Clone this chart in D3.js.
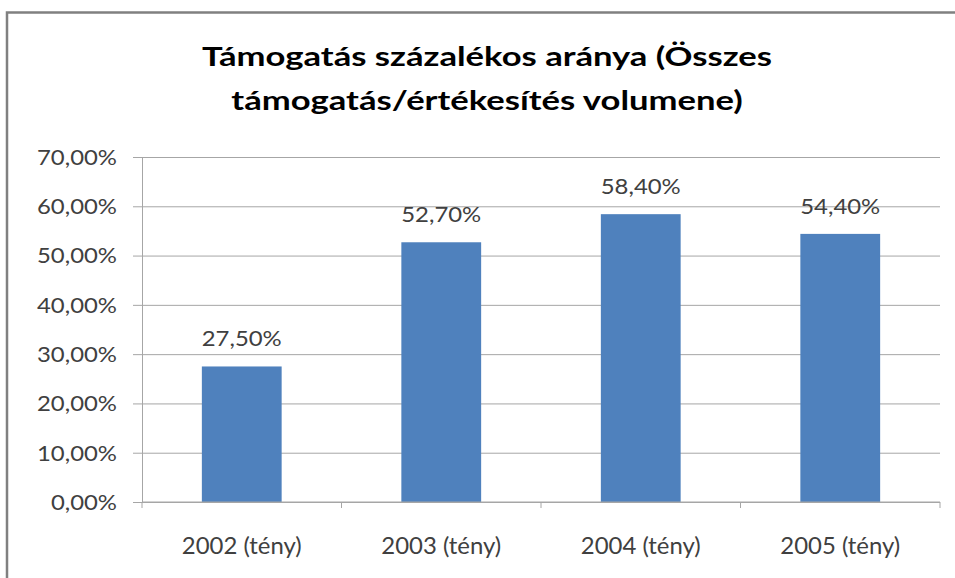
<!DOCTYPE html>
<html>
<head>
<meta charset="utf-8">
<script src="https://cdn.jsdelivr.net/npm/d3@7"></script>
<style>
  body { margin: 0; background: #fff; }
  svg { display: block; font-family: Lato, "Open Sans", sans-serif; }
</style>
</head>
<body>
<svg id="chart" width="955" height="578"></svg>
<script>
const categories = ["2002 (tény)", "2003 (tény)", "2004 (tény)", "2005 (tény)"];
const values = [27.5, 52.7, 58.4, 54.4];
const yTicks = [0, 10, 20, 30, 40, 50, 60, 70];
const titleLines = ["Támogatás százalékos aránya (Összes", "támogatás/értékesítés volumene)"];

const width = 955, height = 578;
const margin = { top: 157, right: 15, bottom: 76, left: 142 };
const fmt = d => d.toFixed(2).replace(".", ",") + "%";

// a referencia betűi szélesebbek, ezért vízszintesen nyújtjuk a szöveget
function stretch(sel, factor) {
    sel.each(function () {
        const w = this.getComputedTextLength();
        d3.select(this).attr("textLength", w * factor).attr("lengthAdjust", "spacingAndGlyphs");
    });
}

const svg = d3.select("#chart");

// keret
svg.append("rect")
    .attr("x", 7).attr("y", 12.5)
    .attr("width", 980).attr("height", 600)
    .attr("fill", "none")
    .attr("stroke", "#808080")
    .attr("stroke-width", 2.5);

// cím
const title = svg.append("g")
    .attr("font-weight", "bold")
    .attr("font-size", 26)
    .attr("fill", "#000")
    .attr("text-anchor", "middle");
const titleTexts = title.selectAll("text")
    .data(titleLines)
    .enter().append("text")
    .attr("x", 487)
    .attr("y", (d, i) => 66 + i * 44)
    .text(d => d);
stretch(titleTexts, 570 / titleTexts.node().getComputedTextLength());

const x = d3.scaleBand()
    .domain(categories)
    .range([margin.left, width - margin.right])
    .padding(0);

const y = d3.scaleLinear()
    .domain([0, 70])
    .range([height - margin.bottom, margin.top]);

// rácsvonalak
svg.append("g")
    .attr("transform", `translate(${margin.left}, 0)`)
    .call(d3.axisLeft(y).tickValues(yTicks).tickSize(-(width - margin.left - margin.right)).tickFormat(""))
    .call(g => g.select(".domain").remove())
    .selectAll("line").attr("stroke", "#a6a6a6");

// y tengely
const yAxis = svg.append("g")
    .attr("transform", `translate(${margin.left}, 0)`)
    .call(d3.axisLeft(y).tickValues(yTicks).tickSize(9).tickPadding(16).tickFormat(fmt))
    .call(g => g.select(".domain").attr("stroke", "#a6a6a6"))
    .call(g => g.selectAll("line").attr("stroke", "#a6a6a6"));
const yLabels = yAxis.selectAll("text")
    .attr("font-family", "Lato, sans-serif")
    .attr("font-size", 21)
    .attr("fill", "#404040")
    .attr("dy", "0.35em");
stretch(yLabels, 80 / yLabels.nodes()[yLabels.size() - 1].getComputedTextLength());

// oszlopok
const barW = x.bandwidth() * 0.4;
svg.selectAll(".bar")
    .data(values)
    .enter().append("rect")
    .attr("class", "bar")
    .attr("x", (d, i) => x(categories[i]) + (x.bandwidth() - barW) / 2)
    .attr("y", d => y(d))
    .attr("width", barW)
    .attr("height", d => y(0) - y(d))
    .attr("fill", "#4f81bd");

// x tengely
const xTicks = categories.map(c => x(c)).concat([x.range()[1]]);
const xAxis = svg.append("g")
    .attr("transform", `translate(0, ${y(0)})`);
xAxis.append("line")
    .attr("x1", margin.left).attr("x2", width - margin.right)
    .attr("stroke", "#a6a6a6");
xAxis.selectAll(".xt")
    .data(xTicks)
    .enter().append("line")
    .attr("x1", d => d).attr("x2", d => d)
    .attr("y1", 0).attr("y2", 6)
    .attr("stroke", "#a6a6a6");
const xLabels = xAxis.selectAll(".xl")
    .data(categories)
    .enter().append("text")
    .attr("x", d => x(d) + x.bandwidth() / 2)
    .attr("y", 52)
    .attr("text-anchor", "middle")
    .attr("font-size", 23)
    .attr("fill", "#404040")
    .text(d => d);
stretch(xLabels, 120 / xLabels.node().getComputedTextLength());

// értékcímkék
const valLabels = svg.selectAll(".lbl")
    .data(values)
    .enter().append("text")
    .attr("x", (d, i) => x(categories[i]) + x.bandwidth() / 2)
    .attr("y", d => y(d) - 20)
    .attr("text-anchor", "middle")
    .attr("font-size", 21)
    .attr("fill", "#404040")
    .text(fmt);
stretch(valLabels, 80 / valLabels.nodes()[2].getComputedTextLength());
</script>
</body>
</html>
